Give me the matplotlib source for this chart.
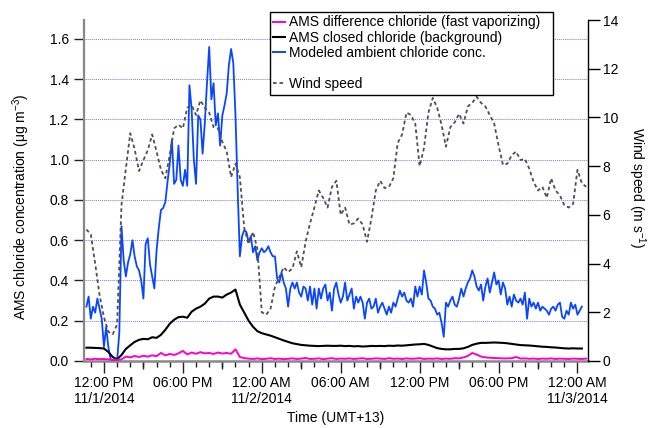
import numpy as np
import pandas as pd
import matplotlib
matplotlib.use('Agg')
import matplotlib.pyplot as plt
import matplotlib.dates as mdates
from matplotlib.ticker import FuncFormatter, FixedLocator, NullFormatter
from matplotlib.lines import Line2D

plt.rcParams['font.family'] = ['Liberation Sans', 'DejaVu Sans']
plt.rcParams['mathtext.fontset'] = 'custom'
plt.rcParams['mathtext.rm'] = 'Liberation Sans'
plt.rcParams['mathtext.it'] = 'Liberation Sans:italic'
plt.rcParams['mathtext.default'] = 'regular'

# ---------------- data ----------------
# modeled ambient chloride, 10-min values starting 11/1/2014 10:40
blue_start = '2014-11-01 10:40'
modeled_ambient = [
    0.27, 0.32, 0.21, 0.27, 0.24, 0.31,
    0.26, 0.21, 0.07, 0.17, 0.07, 0.01,
    0.00, 0.00, 0.00, 0.14, 0.67, 0.50,
    0.42, 0.49, 0.53, 0.60, 0.52, 0.47,
    0.45, 0.40, 0.31, 0.58, 0.61, 0.48,
    0.42, 0.36, 0.55, 0.66, 0.75, 0.76,
    0.79, 0.89, 0.98, 1.10, 0.88, 0.90,
    1.07, 0.90, 0.87, 0.95, 0.87, 1.37,
    1.25, 1.00, 0.88, 1.22, 1.20, 1.03,
    1.18, 1.38, 1.56, 1.30, 1.38, 1.17,
    1.23, 1.07, 1.22, 1.27, 1.33, 1.47,
    1.55, 1.48, 1.22, 0.85, 0.52, 0.62,
    0.65, 0.64, 0.59, 0.62, 0.54, 0.57,
    0.50, 0.54, 0.56, 0.54, 0.55, 0.57,
    0.54, 0.52, 0.52, 0.41, 0.39, 0.44,
    0.39, 0.36, 0.27, 0.36, 0.39, 0.36,
    0.39, 0.34, 0.32, 0.37, 0.36, 0.30,
    0.37, 0.28, 0.36, 0.26, 0.36, 0.31,
    0.36, 0.38, 0.30, 0.34, 0.25, 0.36,
    0.39, 0.33, 0.29, 0.32, 0.39, 0.30,
    0.33, 0.36, 0.26, 0.32, 0.29, 0.32,
    0.29, 0.21, 0.29, 0.31, 0.26, 0.27,
    0.31, 0.24, 0.27, 0.29, 0.26, 0.23,
    0.27, 0.24, 0.29, 0.27, 0.31, 0.35,
    0.32, 0.34, 0.30, 0.29, 0.31, 0.27,
    0.37, 0.32, 0.37, 0.33, 0.45, 0.39,
    0.31, 0.30, 0.27, 0.26, 0.23, 0.24,
    0.19, 0.12, 0.29, 0.27, 0.30, 0.32,
    0.28, 0.27, 0.31, 0.36, 0.32, 0.36,
    0.39, 0.41, 0.45, 0.42, 0.37, 0.35,
    0.38, 0.30, 0.37, 0.41, 0.34, 0.39,
    0.44, 0.38, 0.40, 0.33, 0.39, 0.36,
    0.28, 0.32, 0.27, 0.33, 0.30, 0.29,
    0.31, 0.28, 0.34, 0.21, 0.31, 0.27,
    0.29, 0.26, 0.29, 0.25, 0.27, 0.26,
    0.25, 0.23, 0.26, 0.27, 0.25, 0.28,
    0.29, 0.22, 0.21, 0.25, 0.23, 0.29,
    0.26, 0.28, 0.23, 0.25, 0.27,
]

# 20-min series starting 11/1/2014 10:40
start_20 = '2014-11-01 10:40'
closed_chloride = [
    0.066, 0.066, 0.065, 0.064, 0.062, 0.045, 0.020, 0.008,
    0.030, 0.060, 0.078, 0.095, 0.105, 0.110, 0.108, 0.118,
    0.115, 0.130, 0.155, 0.185, 0.205, 0.218, 0.220, 0.215,
    0.245, 0.260, 0.270, 0.285, 0.310, 0.320, 0.320, 0.315,
    0.330, 0.340, 0.355, 0.280, 0.240, 0.200, 0.170, 0.148,
    0.138, 0.132, 0.126, 0.118, 0.110, 0.102, 0.095, 0.088,
    0.084, 0.080, 0.078, 0.076, 0.075, 0.074, 0.075, 0.076,
    0.075, 0.075, 0.076, 0.074, 0.075, 0.073, 0.074, 0.072,
    0.073, 0.075, 0.074, 0.075, 0.074, 0.076, 0.075, 0.077,
    0.076, 0.078, 0.080, 0.082, 0.083, 0.085, 0.080, 0.072,
    0.064, 0.060, 0.058, 0.058, 0.060, 0.060, 0.063, 0.070,
    0.080, 0.086, 0.090, 0.090, 0.091, 0.092, 0.091, 0.090,
    0.088, 0.085, 0.082, 0.079, 0.078, 0.077, 0.075, 0.073,
    0.071, 0.070, 0.068, 0.067, 0.065, 0.063, 0.062, 0.063,
    0.062, 0.062,
]

difference_chloride = [
    0.010, 0.008, 0.011, 0.009, 0.010, 0.008, 0.006, 0.004,
    0.008, 0.022, 0.018, 0.025, 0.020, 0.026, 0.022, 0.028,
    0.024, 0.040, 0.028, 0.035, 0.030, 0.038, 0.050, 0.033,
    0.042, 0.036, 0.044, 0.038, 0.040, 0.035, 0.042, 0.037,
    0.040, 0.036, 0.058, 0.020, 0.014, 0.012, 0.010, 0.013,
    0.009, 0.011, 0.014, 0.010, 0.012, 0.009, 0.011, 0.013,
    0.010, 0.012, 0.015, 0.010, 0.011, 0.013, 0.009, 0.012,
    0.014, 0.010, 0.012, 0.011, 0.013, 0.010, 0.012, 0.014,
    0.010, 0.011, 0.013, 0.012, 0.010, 0.014, 0.011, 0.012,
    0.010, 0.013, 0.011, 0.012, 0.014, 0.010, 0.012, 0.011,
    0.013, 0.010, 0.012, 0.011, 0.014, 0.013, 0.018, 0.025,
    0.040, 0.032, 0.022, 0.018, 0.016, 0.015, 0.014, 0.013,
    0.013, 0.014, 0.020, 0.012, 0.013, 0.011, 0.012, 0.010,
    0.012, 0.011, 0.013, 0.010, 0.012, 0.011, 0.010, 0.012,
    0.011, 0.010, 0.012,
]

wind_speed = [
    5.4, 5.2, 4.0, 2.7, 1.8, 1.2, 1.1, 1.5,
    6.4, 7.9, 9.35, 8.7, 7.8, 8.25, 8.65, 9.3,
    8.6, 7.85, 7.5, 8.45, 9.55, 9.7, 9.55, 10.4,
    10.5, 10.1, 10.7, 10.4, 10.2, 9.6, 9.55, 9.0,
    8.6, 7.55, 8.1, 7.55, 5.45, 4.8, 5.3, 4.6,
    2.0, 1.9, 2.15, 3.05, 3.45, 3.85, 3.65, 3.8,
    4.5, 3.85, 4.9, 5.65, 6.3, 7.0, 6.7, 6.3,
    7.15, 7.4, 6.0, 6.3, 5.6, 5.65, 5.85, 5.6,
    4.9, 5.85, 7.0, 7.4, 7.1, 7.15, 7.5, 8.95,
    9.3, 10.2, 10.1, 9.75, 8.0, 8.75, 10.2, 10.8,
    10.4, 9.7, 8.8, 9.6, 9.8, 10.15, 9.75, 10.45,
    10.6, 10.85, 10.6, 10.45, 10.1, 9.75, 8.85, 8.05,
    8.1, 8.45, 8.6, 8.25, 8.3, 7.9, 7.35, 7.0,
    7.15, 6.7, 7.5, 7.0, 6.8, 6.4, 6.3, 6.45,
    7.85, 7.3, 7.15,
]

labels = ['AMS difference chloride (fast vaporizing)',
          'AMS closed chloride (background)',
          'Modeled ambient chloride conc.',
          ' ',
          'Wind speed']

left_ticks = [0.0, 0.2, 0.4, 0.6, 0.8, 1.0, 1.2, 1.4, 1.6]
right_ticks = [0, 2, 4, 6, 8, 10, 12, 14]

t_blue = pd.date_range(blue_start, periods=len(modeled_ambient), freq='10min')
t20 = pd.date_range(start_20, periods=len(wind_speed), freq='20min')

# ---------------- figure ----------------
W, H = 651, 428
fig = plt.figure(figsize=(W / 100, H / 100), dpi=100)
ax = fig.add_axes([84 / W, 1 - 361 / H, (588 - 84) / W, (361 - 20) / H])
ax2 = ax.twinx()

c_mag = '#FF00CC'
c_blue = '#0A46FF'
c_wind = '#505050'

ax.plot(t_blue, modeled_ambient, color=c_blue, lw=1.3, zorder=3)
ax.plot(t20[:len(closed_chloride)], closed_chloride, color='black', lw=1.5, zorder=4)
ax.plot(t20[:len(difference_chloride)], difference_chloride, color=c_mag, lw=1.4, zorder=5)
ax2.plot(t20, wind_speed, color=c_wind, lw=1.3, linestyle=(0, (2.0, 1.6)))

ax.set_xlim(pd.Timestamp('2014-11-01 10:29'), pd.Timestamp('2014-11-03 00:48'))
ax.set_ylim(0, 1.694)
ax2.set_ylim(0, 14)

ax.yaxis.set_major_locator(FixedLocator(left_ticks))
ax.yaxis.set_major_formatter(FuncFormatter(lambda v, p: f'{v:.1f}'))
ax2.yaxis.set_major_locator(FixedLocator(right_ticks))

ax.xaxis.set_major_locator(mdates.HourLocator(byhour=[0, 6, 12, 18]))
ax.xaxis.set_minor_locator(mdates.HourLocator(interval=1))


def fmt(x, pos):
    d = mdates.num2date(x)
    s = d.strftime('%I:%M %p')
    if d.hour == 0 or (d.day == 1 and d.hour == 12):
        s += '\n' + f'{d.month}/{d.day}/{d.year}'
    return s


ax.xaxis.set_major_formatter(FuncFormatter(fmt))

sec = ax.secondary_xaxis('bottom')
sec.xaxis.set_major_locator(mdates.HourLocator(byhour=[3, 9, 15, 21]))
sec.xaxis.set_major_formatter(NullFormatter())
sec.tick_params(axis='x', length=6, width=1, color='#222222')
sec.spines['bottom'].set_visible(False)

ax.grid(axis='y', color='#7777ff', linestyle=(0, (1, 1)), lw=0.7)
ax.set_axisbelow(True)

for sp in ['top', 'right']:
    ax.spines[sp].set_visible(False)
for sp in ['top', 'left', 'bottom']:
    ax2.spines[sp].set_visible(False)
ax.spines['left'].set_color('#888888')
ax.spines['left'].set_linewidth(1.6)
ax.spines['bottom'].set_color('#888888')
ax.spines['bottom'].set_linewidth(1.8)
ax2.spines['right'].set_color('black')
ax2.spines['right'].set_linewidth(1.0)

ax.tick_params(axis='y', length=7, width=1, color='#222222', labelsize=10, pad=4)
ax.tick_params(axis='x', which='major', length=8.5, width=1, color='#222222', labelsize=10, pad=2)
ax.tick_params(axis='x', which='minor', length=4, width=1, color='#222222')
ax2.tick_params(axis='y', length=8.5, width=1, color='black', labelsize=10, pad=2)

ax.set_ylabel('AMS chloride concentration (μg m$^{-3}$)', fontsize=10)
ax.yaxis.set_label_coords(-0.104, 0.452)
ax2.set_ylabel('Wind speed (m s$^{-1}$)', fontsize=10, rotation=270)
ax2.yaxis.set_label_coords(1.119, 0.507)
ax.set_xlabel('Time (UMT+13)', fontsize=10)
ax.xaxis.set_label_coords(0.5, -0.148)

handles = [Line2D([], [], color=c_mag, lw=1.4),
           Line2D([], [], color='black', lw=1.5),
           Line2D([], [], color=c_blue, lw=1.4),
           Line2D([], [], color='none'),
           Line2D([], [], color=c_wind, lw=1.3, linestyle=(0, (2.0, 1.6)))]
leg = ax2.legend(handles, labels, loc='upper left', mode='expand',
                 bbox_to_anchor=(270 / W, (H - 96) / H, 283 / W, 84 / H),
                 bbox_transform=fig.transFigure,
                 frameon=True, fancybox=False, edgecolor='black', framealpha=1,
                 fontsize=10, handlelength=0.85, handletextpad=0.3,
                 borderpad=0.25, labelspacing=0.1, borderaxespad=0)
leg.get_frame().set_linewidth(1.0)

fig.savefig('out.png', dpi=100)
